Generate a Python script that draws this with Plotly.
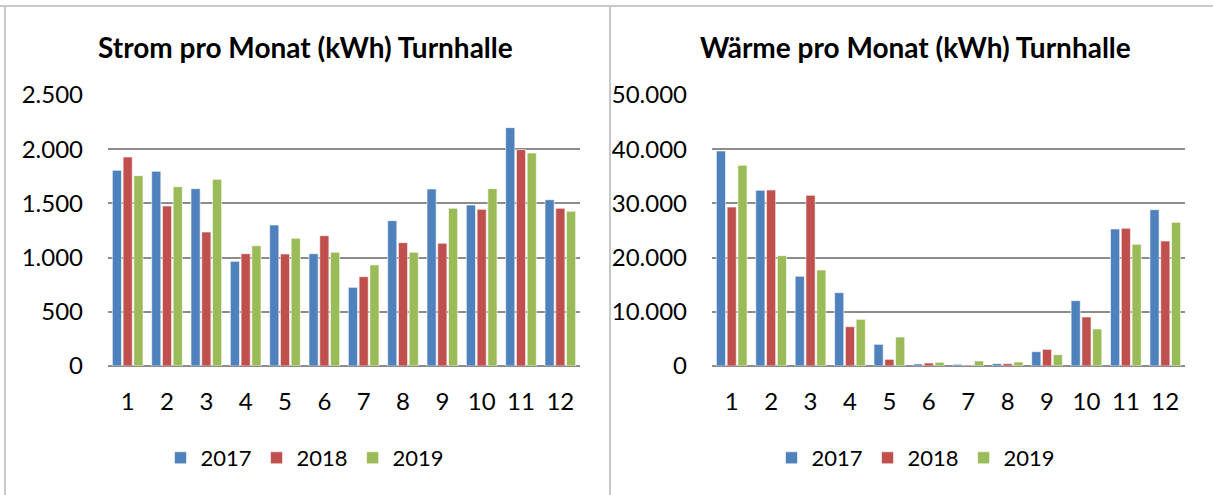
import plotly.graph_objects as go

months = [str(m) for m in range(1, 13)]
years = ["2017", "2018", "2019"]
colors = ["#4F81BD", "#C0504D", "#9BBB59"]

strom_2017 = [1805, 1796, 1636, 966, 1301, 1036, 726, 1341, 1633, 1485, 2199, 1534]
strom_2018 = [1928, 1476, 1236, 1036, 1033, 1202, 824, 1138, 1132, 1445, 1996, 1455]
strom_2019 = [1756, 1654, 1722, 1110, 1178, 1049, 932, 1049, 1455, 1636, 1965, 1427]

waerme_2017 = [39670, 32411, 16544, 13530, 3998, 370, 300, 430, 2645, 12054, 25277, 28843]
waerme_2018 = [29336, 32472, 31488, 7257, 1230, 550, 180, 430, 3075, 9040, 25400, 23063]
waerme_2019 = [37023, 20357, 17712, 8610, 5350, 680, 920, 740, 2090, 6827, 22448, 26507]

strom = [strom_2017, strom_2018, strom_2019]
waerme = [waerme_2017, waerme_2018, waerme_2019]

W, H = 1213, 495
FONT = "Lato"

fig = go.Figure()
for i, y in enumerate(years):
    fig.add_trace(go.Bar(x=months, y=strom[i], name=y, marker_color=colors[i],
                         marker_line=dict(color="rgba(255,255,255,0.6)", width=1),
                         xaxis="x", yaxis="y", legend="legend"))
for i, y in enumerate(years):
    fig.add_trace(go.Bar(x=months, y=waerme[i], name=y, marker_color=colors[i],
                         marker_line=dict(color="rgba(255,255,255,0.6)", width=1),
                         xaxis="x2", yaxis="y2", legend="legend2"))

ytop = 1 - 95 / H
ybot = 1 - 366 / H

axis_common = dict(showline=False, ticks="", automargin=False,
                   tickfont=dict(family=FONT, size=24, color="#000000"))

fig.update_layout(
    width=W, height=H,
    margin=dict(l=0, r=0, t=0, b=0, autoexpand=False),
    paper_bgcolor="white", plot_bgcolor="white",
    separators=",.",
    barmode="group", bargap=0.18, bargroupgap=0.15,
    showlegend=True,
    font=dict(family=FONT, color="#000000"),
    xaxis=dict(domain=[108 / W, 580 / W], anchor="y", type="category",
               showgrid=False, zeroline=False, ticklabelstandoff=19, **axis_common),
    yaxis=dict(domain=[ybot, ytop], anchor="x", range=[0, 2500], dtick=500,
               tickformat=",d", showgrid=True, gridcolor="#8C8C8C", gridwidth=1.8,
               zeroline=True, zerolinecolor="#8C8C8C", zerolinewidth=1.8,
               ticklabelstandoff=24, **axis_common),
    xaxis2=dict(domain=[712 / W, 1185 / W], anchor="y2", type="category",
                showgrid=False, zeroline=False, ticklabelstandoff=19, **axis_common),
    yaxis2=dict(domain=[ybot, ytop], anchor="x2", range=[0, 50000], dtick=10000,
                tickformat=",d", showgrid=True, gridcolor="#8C8C8C", gridwidth=1.8,
                zeroline=True, zerolinecolor="#8C8C8C", zerolinewidth=1.8,
                ticklabelstandoff=24, **axis_common),
    legend=dict(orientation="h", x=305 / W, xanchor="center", y=1 - 458 / H, yanchor="middle",
                font=dict(family=FONT, size=22, color="#000000"), bgcolor="rgba(0,0,0,0)"),
    legend2=dict(orientation="h", x=916 / W, xanchor="center", y=1 - 458 / H, yanchor="middle",
                 font=dict(family=FONT, size=22, color="#000000"), bgcolor="rgba(0,0,0,0)"),
    annotations=[
        dict(text="<b>Strom pro Monat (kWh) Turnhalle</b>", x=305 / W, y=1 - 47 / H,
             xref="paper", yref="paper", xanchor="center", yanchor="middle",
             showarrow=False, font=dict(family=FONT, size=28, color="#000000")),
        dict(text="<b>Wärme pro Monat (kWh) Turnhalle</b>", x=916 / W, y=1 - 47 / H,
             xref="paper", yref="paper", xanchor="center", yanchor="middle",
             showarrow=False, font=dict(family=FONT, size=28, color="#000000")),
    ],
    shapes=[
        dict(type="line", xref="paper", yref="paper", x0=0, x1=1, y0=1 - 6 / H, y1=1 - 6 / H,
             line=dict(color="#C8C8C8", width=2)),
        dict(type="line", xref="paper", yref="paper", x0=5 / W, x1=5 / W, y0=0, y1=1 - 6 / H,
             line=dict(color="#C8C8C8", width=2)),
        dict(type="line", xref="paper", yref="paper", x0=610 / W, x1=610 / W, y0=0, y1=1 - 6 / H,
             line=dict(color="#C8C8C8", width=2)),
    ],
)

fig.write_html("out.html", config={"displayModeBar": False},
               post_script="document.body.style.margin='0px';")
